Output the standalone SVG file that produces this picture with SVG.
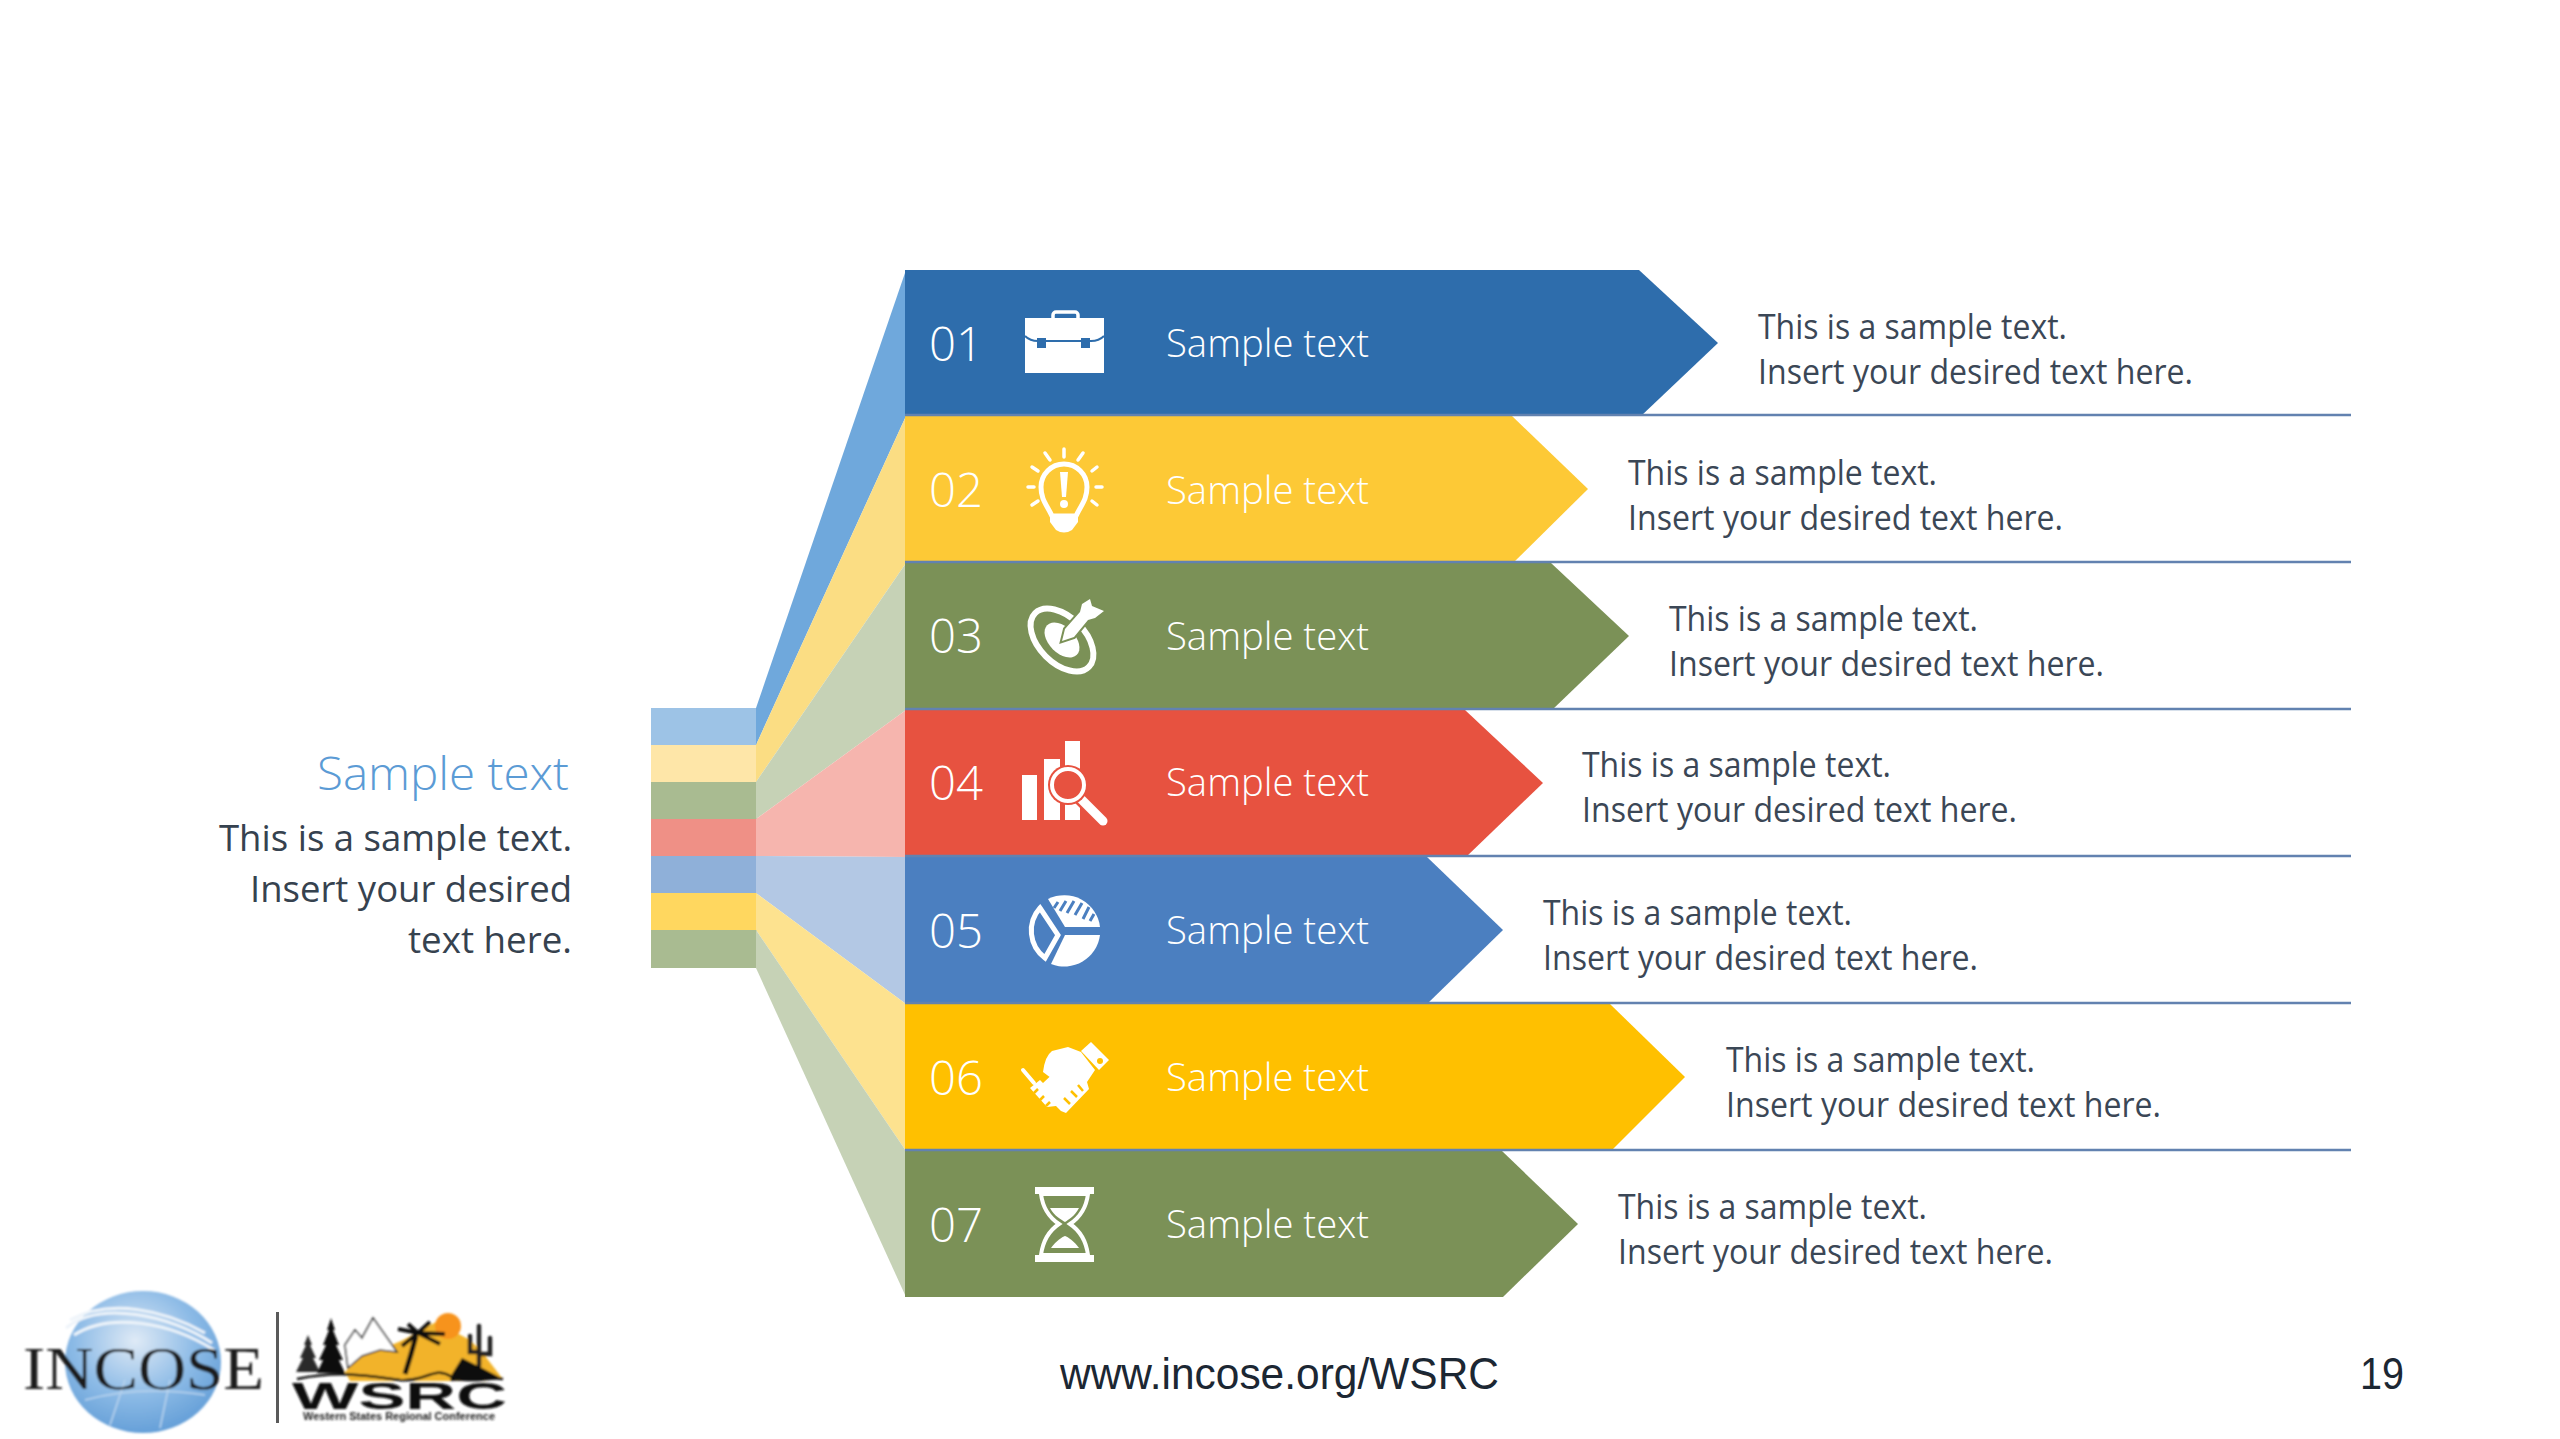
<svg xmlns="http://www.w3.org/2000/svg" width="2560" height="1439" viewBox="0 0 2560 1439">
<style>
text{font-family:"Open Sans","Noto Sans","Liberation Sans",sans-serif;font-weight:300}
.num{font-size:48px;fill:#fff}
.lab{font-size:38px;fill:#fff}
.d{font-size:34px;fill:#3b4756;font-weight:400}
.h{font-size:46px;fill:#5b9bd5;text-anchor:end}
.b{font-size:36px;fill:#36424f;text-anchor:end;font-weight:400}
.foot{font-family:"Liberation Sans",Arial,sans-serif;font-size:45px;fill:#1c2733;font-weight:400}
.rule{stroke:#6282b0;stroke-width:2.5;fill:none}
.w{fill:#fff}
.wsm{stroke:#fff;stroke-width:3.5;fill:none;stroke-linecap:round}
</style>
<defs>
<radialGradient id="globe" cx="0.45" cy="0.35" r="0.7"><stop offset="0" stop-color="#dfeaf6"/><stop offset="0.55" stop-color="#8dbbe6"/><stop offset="1" stop-color="#5f9bd6"/></radialGradient>
<filter id="soft" x="-5%" y="-5%" width="110%" height="110%"><feGaussianBlur stdDeviation="0.9"/></filter>
</defs>
<rect width="2560" height="1439" fill="#fff"/>

<g id="strips">
<rect x="651" y="708" width="106" height="37.5" fill="#9dc3e6"/>
<rect x="651" y="745" width="106" height="37.5" fill="#fee6a8"/>
<rect x="651" y="782" width="106" height="37.5" fill="#a9bb91"/>
<rect x="651" y="819" width="106" height="37.5" fill="#ef9086"/>
<rect x="651" y="856" width="106" height="37.5" fill="#8fb0d9"/>
<rect x="651" y="893" width="106" height="37.5" fill="#ffd75f"/>
<rect x="651" y="930" width="106" height="38" fill="#a9bb91"/>
</g>

<g id="connectors">
<polygon points="756,708 906,270 906,416 756,745" fill="#6fa8dc"/>
<polygon points="756,745 906,416 906,563 756,782" fill="#fbdd83"/>
<polygon points="756,782 906,563 906,710 756,819" fill="#c6d2b6"/>
<polygon points="756,819 906,710 906,857 756,856" fill="#f6b5ae"/>
<polygon points="756,856 906,857 906,1004 756,893" fill="#b3c8e4"/>
<polygon points="756,893 906,1004 906,1151 756,930" fill="#fde28f"/>
<polygon points="756,930 906,1151 906,1297 756,968" fill="#c6d2b6"/>
</g>

<g id="arrows">
<polygon id="arrow-01" points="905,270 1639,270 1718,343 1641,416 905,416" fill="#2e6dac"/>
<polygon id="arrow-02" points="905,416 1512,416 1588,489 1513,563 905,563" fill="#fdc936"/>
<polygon id="arrow-03" points="905,563 1551,563 1629,636 1552,710 905,710" fill="#7b9157"/>
<polygon id="arrow-04" points="905,710 1465,710 1543,783 1466,857 905,857" fill="#e75240"/>
<polygon id="arrow-05" points="905,857 1427,857 1503,930 1427,1004 905,1004" fill="#4b7fc0"/>
<polygon id="arrow-06" points="905,1004 1610,1004 1685,1077 1611,1151 905,1151" fill="#ffc000"/>
<polygon id="arrow-07" points="905,1151 1502,1151 1578,1224 1503,1297 905,1297" fill="#7b9157"/>
</g>

<g id="separators">
<path class="rule" d="M905,415H2351"/>
<path class="rule" d="M905,562H2351"/>
<path class="rule" d="M905,709H2351"/>
<path class="rule" d="M905,856H2351"/>
<path class="rule" d="M905,1003H2351"/>
<path class="rule" d="M905,1150H2351"/>
</g>

<g id="item-01">
<text class="num" x="929" y="361" textLength="54" lengthAdjust="spacingAndGlyphs">01</text>
<g id="icon-briefcase">
<rect x="1053" y="312" width="25" height="10" rx="3" class="wsm"/>
<rect x="1025" y="318" width="79" height="55" class="w"/>
<path d="M1025,336C1029,340 1033,341 1038,341H1091C1096,341 1100,340 1104,336" fill="none" stroke="#2e6dac" stroke-width="2"/>
<rect x="1037" y="338" width="9" height="10" fill="#2e6dac"/>
<rect x="1081" y="338" width="9" height="10" fill="#2e6dac"/>
</g>
<text class="lab" x="1166" y="357" textLength="203" lengthAdjust="spacingAndGlyphs">Sample text</text>
<text class="d" x="1758" y="339" textLength="309" lengthAdjust="spacingAndGlyphs">This is a sample text.</text>
<text class="d" x="1758" y="384" textLength="435" lengthAdjust="spacingAndGlyphs">Insert your desired text here.</text>
</g>

<g id="item-02">
<text class="num" x="929" y="507" textLength="54" lengthAdjust="spacingAndGlyphs">02</text>
<g id="icon-bulb">
<path d="M1052,516C1047,505 1041,500 1041,487A23,23 0 0 1 1087,487C1087,500 1081,505 1076,516Z" fill="none" stroke="#fff" stroke-width="5"/>
<path d="M1050,516H1078V522L1072,530Q1064,535 1056,530L1050,522Z" class="w"/>
<path d="M1060,472H1068L1066,497H1062Z" class="w"/>
<circle cx="1064" cy="504" r="4" class="w"/>
<path class="wsm" d="M1064,449V457M1045,453L1050,460M1083,453L1078,460M1032,467L1038,471M1097,467L1092,471M1028,487H1034M1096,487H1102M1032,505L1038,501M1097,505L1092,501"/>
</g>
<text class="lab" x="1166" y="504" textLength="203" lengthAdjust="spacingAndGlyphs">Sample text</text>
<text class="d" x="1628" y="485" textLength="309" lengthAdjust="spacingAndGlyphs">This is a sample text.</text>
<text class="d" x="1628" y="530" textLength="435" lengthAdjust="spacingAndGlyphs">Insert your desired text here.</text>
</g>

<g id="item-03">
<text class="num" x="929" y="653" textLength="54" lengthAdjust="spacingAndGlyphs">03</text>
<g id="icon-target">
<ellipse cx="1062" cy="640" rx="38" ry="23" transform="rotate(45 1062 640)" fill="none" stroke="#fff" stroke-width="6"/>
<ellipse cx="1062" cy="640" rx="21" ry="13" transform="rotate(45 1062 640)" class="w"/>
<path d="M1062,641L1065,629L1080,612L1082,604L1090,599L1092,606L1104,611L1095,618L1088,620L1074,637Z" class="w" stroke="#7b9157" stroke-width="4" paint-order="stroke"/>
</g>
<text class="lab" x="1166" y="650" textLength="203" lengthAdjust="spacingAndGlyphs">Sample text</text>
<text class="d" x="1669" y="631" textLength="309" lengthAdjust="spacingAndGlyphs">This is a sample text.</text>
<text class="d" x="1669" y="676" textLength="435" lengthAdjust="spacingAndGlyphs">Insert your desired text here.</text>
</g>

<g id="item-04">
<text class="num" x="929" y="800" textLength="54" lengthAdjust="spacingAndGlyphs">04</text>
<g id="icon-chart">
<rect x="1022" y="775" width="15" height="45" class="w"/>
<rect x="1044" y="759" width="16" height="61" class="w"/>
<rect x="1065" y="741" width="15" height="79" class="w"/>
<path d="M1080,798L1103,821" stroke="#e75240" stroke-width="14" fill="none"/>
<path d="M1080,798L1103,821" stroke="#fff" stroke-width="9" fill="none" stroke-linecap="round"/>
<circle cx="1068" cy="785" r="20" fill="#e75240"/>
<circle cx="1068" cy="785" r="16" fill="#e75240" stroke="#fff" stroke-width="4"/>
</g>
<text class="lab" x="1166" y="796" textLength="203" lengthAdjust="spacingAndGlyphs">Sample text</text>
<text class="d" x="1582" y="777" textLength="309" lengthAdjust="spacingAndGlyphs">This is a sample text.</text>
<text class="d" x="1582" y="822" textLength="435" lengthAdjust="spacingAndGlyphs">Insert your desired text here.</text>
</g>

<g id="item-05">
<text class="num" x="929" y="948" textLength="54" lengthAdjust="spacingAndGlyphs">05</text>
<g id="icon-pie">
<path d="M1065,935H1100A36,36 0 0 1 1051,964Z" class="w"/>
<path d="M1065,927L1048,899A36,36 0 0 1 1100,927Z" class="w"/>
<path d="M1058,902L1054,908M1066,901L1060,911M1074,901L1067,913M1082,903L1075,915M1089,907L1083,919M1094,914L1090,921" stroke="#4b7fc0" stroke-width="3" fill="none"/>
<path d="M1040,908L1058,935L1045,958A34,34 0 0 1 1040,908Z" fill="none" stroke="#fff" stroke-width="5"/>
</g>
<text class="lab" x="1166" y="944" textLength="203" lengthAdjust="spacingAndGlyphs">Sample text</text>
<text class="d" x="1543" y="925" textLength="309" lengthAdjust="spacingAndGlyphs">This is a sample text.</text>
<text class="d" x="1543" y="970" textLength="435" lengthAdjust="spacingAndGlyphs">Insert your desired text here.</text>
</g>

<g id="item-06">
<text class="num" x="929" y="1095" textLength="54" lengthAdjust="spacingAndGlyphs">06</text>
<g id="icon-handshake">
<polygon points="1081,1051 1091,1042 1109,1060 1099,1070" class="w"/>
<circle cx="1100" cy="1061" r="3" fill="#ffc000"/>
<path d="M1043,1072Q1045,1056 1052,1051L1068,1047L1081,1052L1095,1070L1087,1082L1089,1089L1066,1113L1061,1111L1056,1106L1047,1107L1030,1088L1040,1080L1043,1083L1059,1068L1051,1078Z" class="w"/>
<path d="M1070,1104L1064,1098M1077,1097L1071,1091M1083,1091L1078,1085M1034,1093L1038,1089M1040,1100L1044,1096M1046,1106L1050,1102" stroke="#ffc000" stroke-width="2.5" fill="none"/>
<path d="M1023,1070L1034,1083" stroke="#fff" stroke-width="4" stroke-linecap="round" fill="none"/>
</g>
<text class="lab" x="1166" y="1091" textLength="203" lengthAdjust="spacingAndGlyphs">Sample text</text>
<text class="d" x="1726" y="1072" textLength="309" lengthAdjust="spacingAndGlyphs">This is a sample text.</text>
<text class="d" x="1726" y="1117" textLength="435" lengthAdjust="spacingAndGlyphs">Insert your desired text here.</text>
</g>

<g id="item-07">
<text class="num" x="929" y="1242" textLength="54" lengthAdjust="spacingAndGlyphs">07</text>
<g id="icon-hourglass" transform="translate(0,15)">
<rect x="1035" y="1172" width="59" height="7" class="w"/>
<rect x="1035" y="1240" width="59" height="7" class="w"/>
<path d="M1041,1179C1043,1195 1050,1203 1059,1209C1050,1215 1043,1225 1041,1240H1088C1086,1225 1079,1215 1070,1209C1079,1203 1086,1195 1088,1179Z" fill="none" stroke="#fff" stroke-width="4"/>
<path d="M1050,1193H1079C1075,1201 1068,1205 1065,1207C1062,1205 1054,1201 1050,1193Z" class="w"/>
<path d="M1051,1233C1056,1226 1062,1222 1065,1221C1068,1222 1074,1226 1079,1233Z" class="w"/>
</g>
<text class="lab" x="1166" y="1238" textLength="203" lengthAdjust="spacingAndGlyphs">Sample text</text>
<text class="d" x="1618" y="1219" textLength="309" lengthAdjust="spacingAndGlyphs">This is a sample text.</text>
<text class="d" x="1618" y="1264" textLength="435" lengthAdjust="spacingAndGlyphs">Insert your desired text here.</text>
</g>

<g id="summary">
<text class="h" x="569" y="790" textLength="252" lengthAdjust="spacingAndGlyphs">Sample text</text>
<text class="b" x="572" y="851" textLength="353" lengthAdjust="spacingAndGlyphs">This is a sample text.</text>
<text class="b" x="572" y="902" textLength="322" lengthAdjust="spacingAndGlyphs">Insert your desired</text>
<text class="b" x="572" y="953" textLength="164" lengthAdjust="spacingAndGlyphs">text here.</text>
</g>

<g id="logo-incose" filter="url(#soft)">
<ellipse cx="143" cy="1362" rx="78" ry="71" fill="url(#globe)"/>
<path d="M66,1328C100,1300 170,1315 212,1343M70,1320C110,1298 165,1310 205,1333M74,1335C110,1312 170,1322 214,1350" fill="none" stroke="#eef4fa" stroke-width="3"/>
<path d="M85,1400Q140,1385 205,1395M110,1425L125,1380M160,1428L170,1380" fill="none" stroke="#b9d4ee" stroke-width="1.5"/>
<text x="23" y="1389" textLength="241" lengthAdjust="spacingAndGlyphs" style="font-family:'Liberation Serif',serif;font-size:61px;fill:#1c1c1c;font-weight:400">INCOSE</text>
</g>
<rect id="logo-divider" x="276" y="1312" width="3" height="111" fill="#5a5a5a"/>
<g id="logo-wsrc" filter="url(#soft)">
<polygon points="345,1372 362,1355 380,1350 403,1340 436,1322 470,1340 482,1352 502,1378 480,1381 350,1381" fill="#f2b32a"/>
<polygon points="345,1345 355,1330 362,1338 373,1318 397,1352 380,1350 362,1356 348,1368" fill="#fff" stroke="#333" stroke-width="1.6"/>
<circle cx="448" cy="1326" r="13" fill="#f7931e"/>
<polygon points="308,1335 312,1345 310,1345 316,1358 313,1358 320,1372 296,1372 303,1358 300,1358 306,1345 304,1345" fill="#2a2a2a"/>
<polygon points="331,1318 335,1330 333,1330 339,1345 336,1345 343,1360 339,1360 345,1373 317,1373 323,1360 319,1360 326,1345 323,1345 329,1330 327,1330" fill="#111"/>
<path d="M405,1374Q411,1355 416,1336" stroke="#111" stroke-width="5" fill="none"/>
<path d="M418,1333L398,1329M418,1333L408,1324M418,1333L430,1322M418,1333L445,1334M418,1333L440,1344M418,1333L402,1346" stroke="#111" stroke-width="4" fill="none"/>
<path d="M479,1326V1366M470,1336V1352H479M490,1338V1354H479" stroke="#222" stroke-width="4.5" fill="none" stroke-linecap="round"/>
<polygon points="452,1374 462,1358 482,1368 503,1379 450,1381" fill="#111"/>
<path d="M297,1379C340,1370 370,1376 400,1380C425,1382 435,1366 450,1376C470,1385 490,1376 503,1379" stroke="#111" stroke-width="2.5" fill="none"/>
<text x="292" y="1409" textLength="215" lengthAdjust="spacingAndGlyphs" style="font-family:'Liberation Sans',Arial,sans-serif;font-size:37px;fill:#111;font-weight:700">WSRC</text>
<text x="303" y="1420" textLength="192" lengthAdjust="spacingAndGlyphs" style="font-family:'Liberation Sans',Arial,sans-serif;font-size:10px;fill:#222;font-weight:700">Western States Regional Conference</text>
</g>

<g id="footer">
<text class="foot" x="1060" y="1389" textLength="439" lengthAdjust="spacingAndGlyphs">www.incose.org/WSRC</text>
<text class="foot" x="2360" y="1389" textLength="44" lengthAdjust="spacingAndGlyphs">19</text>
</g>
</svg>
